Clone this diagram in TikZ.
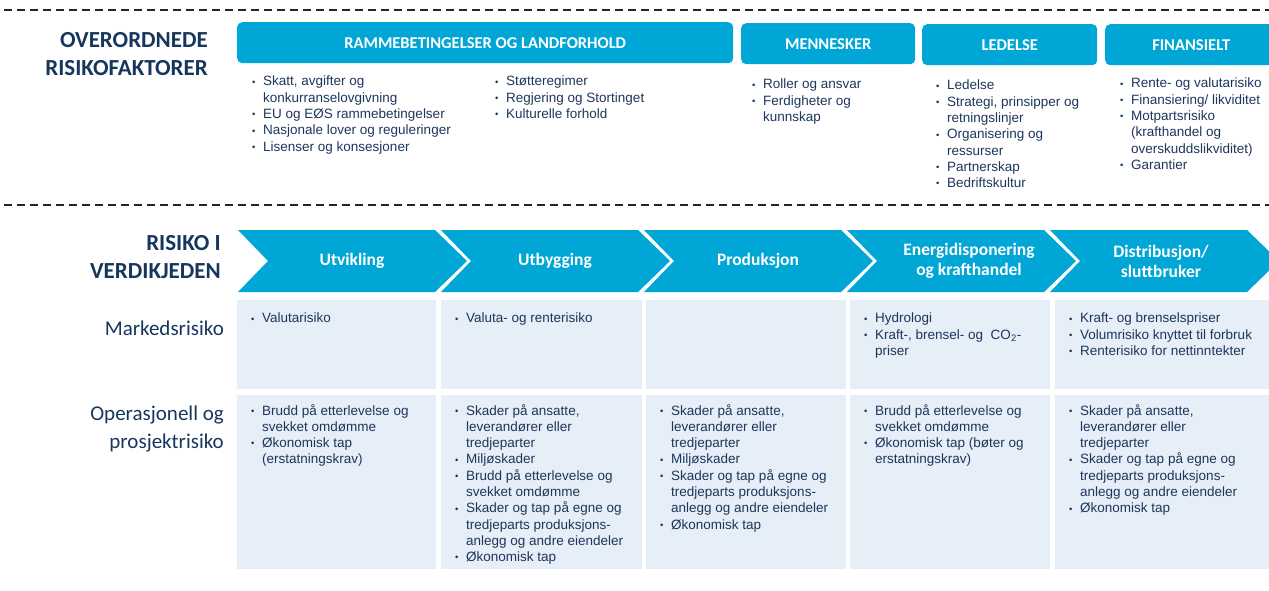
\documentclass[tikz,border=0pt]{standalone}
\usepackage{fontspec}
\setmainfont{Liberation Sans}
\newfontfamily\calfont{Carlito}
\usetikzlibrary{positioning}
\definecolor{riskcyan}{RGB}{0,166,214}
\definecolor{cellblue}{RGB}{230,238,247}
\definecolor{risknavy}{RGB}{22,54,92}
\definecolor{textnavy}{RGB}{28,54,92}
\newcommand{\bp}{\makebox[11pt][l]{\raisebox{0.8pt}{\fontsize{9.5}{9.5}\selectfont\textbullet}}}
\newcommand{\bq}{\hspace*{11pt}}
\tikzset{
  sepline/.style={line width=1.4pt, dash pattern=on 8pt off 5pt, black!85},
  bighead/.style={anchor=east, align=right, text=risknavy, inner sep=0pt,
    font=\calfont\bfseries\fontsize{23}{28}\selectfont},
  rowhead/.style={anchor=east, align=right, text=risknavy, inner sep=0pt,
    font=\calfont\fontsize{21}{28}\selectfont},
  hdbox/.style={fill=riskcyan, rounded corners=5pt, anchor=north west,
    minimum height=41pt, inner sep=0pt, text=white,
    font=\calfont\bfseries\fontsize{16.5}{20}\selectfont},
  chevlab/.style={align=center, text=white, inner sep=0pt,
    font=\calfont\bfseries\fontsize{17.5}{20}\selectfont},
  cell/.style={fill=cellblue, anchor=north west, inner sep=0pt},
  blist/.style={anchor=north west, align=left, text=textnavy, inner sep=0pt,
    font=\fontsize{13.5}{16.3}\selectfont}
}

\begin{document}
\begin{tikzpicture}[x=1pt,y=-1pt]
  \useasboundingbox (0,0) rectangle (1269,590);

  % skillelinjer
  \coordinate (s1a) at (4,10);
  \coordinate (s1b) at (1269,10);
  \coordinate (s2a) at (4,205);
  \coordinate (s2b) at (1269,205);
  \draw[sepline] (s1a) -- (s1b);
  \draw[sepline] (s2a) -- (s2b);

  % overordnede risikofaktorer
  \node[bighead] (ovr) at (208,54) {OVERORDNEDE\\RISIKOFAKTORER};

  \node[hdbox, minimum width=496pt] (ramme) at (237,22) {RAMMEBETINGELSER OG LANDFORHOLD};
  \node[hdbox, minimum width=174pt] (menn) at (741,23) {MENNESKER};
  \node[hdbox, minimum width=175pt] (led) at (922,24) {LEDELSE};
  \node[hdbox, minimum width=172pt] (fin) at (1105,24) {FINANSIELT};

  \node[blist] (rammeA) at (252,76) {\bp Skatt, avgifter og\\
    \bq konkurranselovgivning\\
    \bp EU og EØS rammebetingelser\\
    \bp Nasjonale lover og reguleringer\\
    \bp Lisenser og konsesjoner};
  \node[blist] (rammeB) at (495,76) {\bp Støtteregimer\\
    \bp Regjering og Stortinget\\
    \bp Kulturelle forhold};
  \node[blist] (mennL) at (752,79) {\bp Roller og ansvar\\
    \bp Ferdigheter og\\
    \bq kunnskap};
  \node[blist] (ledL) at (936,80) {\bp Ledelse\\
    \bp Strategi, prinsipper og\\
    \bq retningslinjer\\
    \bp Organisering og\\
    \bq ressurser\\
    \bp Partnerskap\\
    \bp Bedriftskultur};
  \node[blist] (finL) at (1120,78) {\bp Rente- og valutarisiko\\
    \bp Finansiering/ likviditet\\
    \bp Motpartsrisiko\\
    \bq (krafthandel og\\
    \bq overskuddslikviditet)\\
    \bp Garantier};

  % risiko i verdikjeden
  \node[bighead] (vk) at (221,257) {RISIKO I\\VERDIKJEDEN};
  \foreach \s in {238,441,644,847,1050}
    \fill[riskcyan] (\s,230) -- ++(197,0) -- ++(32,31) -- ++(-32,31)
      -- ++(-197,0) -- ++(30,-31) -- cycle;
  \node[chevlab] (utv) at (352,261) {Utvikling};
  \node[chevlab] (utb) at (555,261) {Utbygging};
  \node[chevlab] (prod) at (758,261) {Produksjon};
  \node[chevlab] (energi) at (969,261) {Energidisponering\\og krafthandel};
  \node[chevlab] (distr) at (1161,261) {Distribusjon/\\sluttbruker};

  % celler
  \foreach \x/\w [count=\i] in {237/199,441/201,646/200,850/200,1055/214} {
    \node[cell, minimum width=\w pt, minimum height=89pt] (m\i) at (\x,300) {};
    \node[cell, minimum width=\w pt, minimum height=174pt] (o\i) at (\x,395) {};
  }

  \node[rowhead] (marked) at (224,328) {Markedsrisiko};
  \node[rowhead] (opera) at (224,429) {Operasjonell og\\prosjektrisiko};

  % markedsrisiko
  \node[blist] (mt1) at ([shift={(14,13)}]m1.north west) {\bp Valutarisiko};
  \node[blist] (mt2) at ([shift={(14,13)}]m2.north west) {\bp Valuta- og renterisiko};
  \node[blist] (mt4) at ([shift={(14,13)}]m4.north west) {\bp Hydrologi\\
    \bp Kraft-, brensel- og\ \ CO\textsubscript{2}-\\
    \bq priser};
  \node[blist] (mt5) at ([shift={(14,13)}]m5.north west) {\bp Kraft- og brenselspriser\\
    \bp Volumrisiko knyttet til forbruk\\
    \bp Renterisiko for nettinntekter};

  % operasjonell og prosjektrisiko
  \node[blist] (ot1) at ([shift={(14,9)}]o1.north west) {\bp Brudd på etterlevelse og\\
    \bq svekket omdømme\\
    \bp Økonomisk tap\\
    \bq (erstatningskrav)};
  \node[blist] (ot2) at ([shift={(14,9)}]o2.north west) {\bp Skader på ansatte,\\
    \bq leverandører eller\\
    \bq tredjeparter\\
    \bp Miljøskader\\
    \bp Brudd på etterlevelse og\\
    \bq svekket omdømme\\
    \bp Skader og tap på egne og\\
    \bq tredjeparts produksjons-\\
    \bq anlegg og andre eiendeler\\
    \bp Økonomisk tap};
  \node[blist] (ot3) at ([shift={(14,9)}]o3.north west) {\bp Skader på ansatte,\\
    \bq leverandører eller\\
    \bq tredjeparter\\
    \bp Miljøskader\\
    \bp Skader og tap på egne og\\
    \bq tredjeparts produksjons-\\
    \bq anlegg og andre eiendeler\\
    \bp Økonomisk tap};
  \node[blist] (ot4) at ([shift={(14,9)}]o4.north west) {\bp Brudd på etterlevelse og\\
    \bq svekket omdømme\\
    \bp Økonomisk tap (bøter og\\
    \bq erstatningskrav)};
  \node[blist] (ot5) at ([shift={(14,9)}]o5.north west) {\bp Skader på ansatte,\\
    \bq leverandører eller\\
    \bq tredjeparter\\
    \bp Skader og tap på egne og\\
    \bq tredjeparts produksjons-\\
    \bq anlegg og andre eiendeler\\
    \bp Økonomisk tap};
\end{tikzpicture}
\end{document}
